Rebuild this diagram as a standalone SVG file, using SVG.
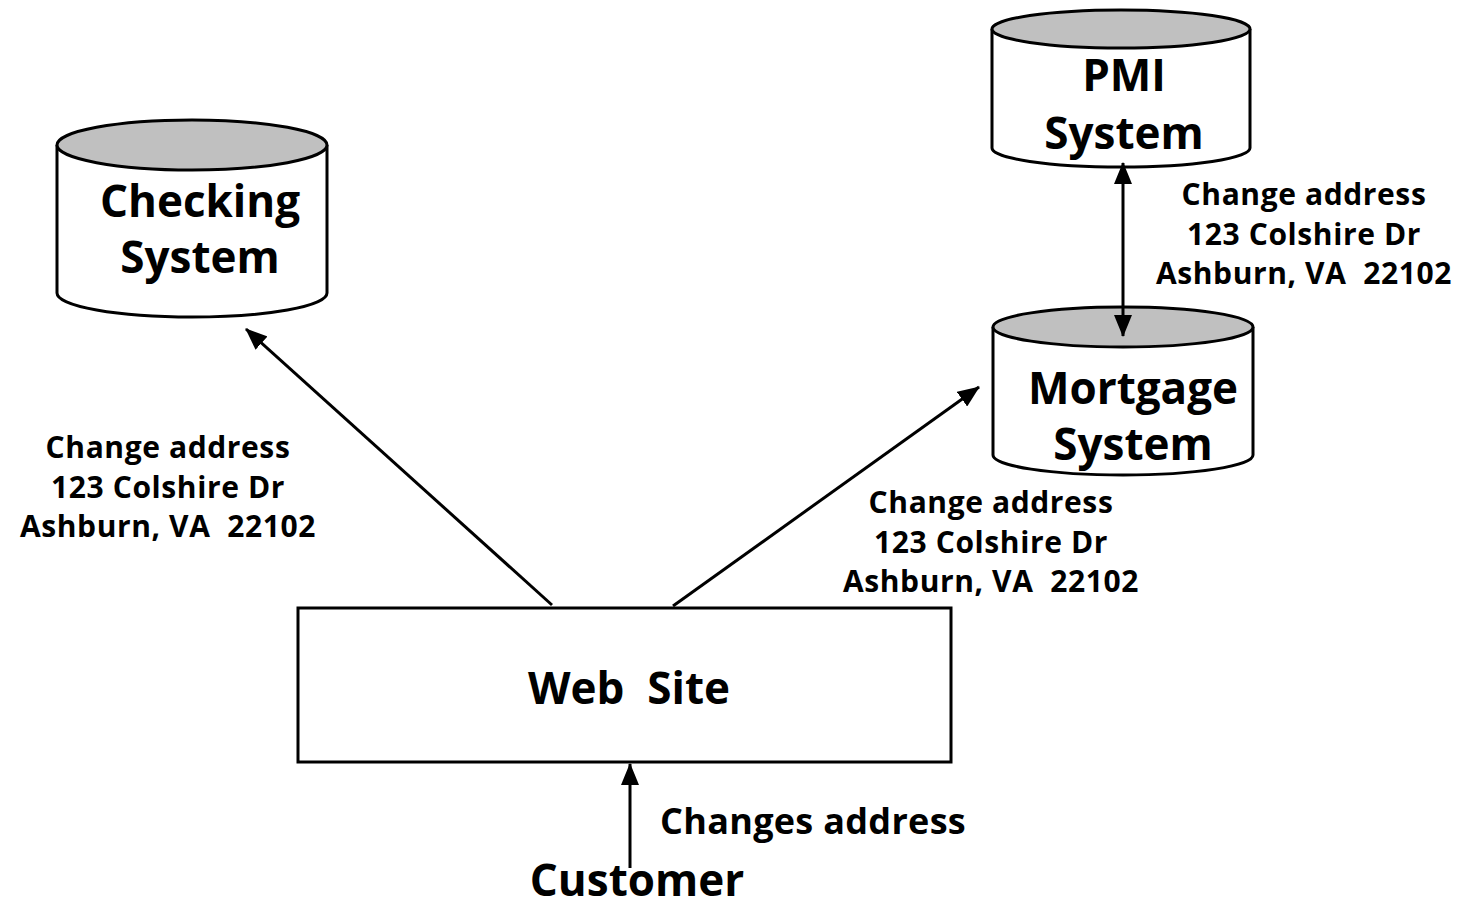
<svg xmlns="http://www.w3.org/2000/svg" width="1462" height="909" viewBox="0 0 1462 909">
  <style>
    text { font-family: "Open Sans", "Noto Sans", "Liberation Sans", sans-serif; font-weight: bold; fill: #000; text-anchor: middle; white-space: pre; }
    .big { font-size: 44px; }
    .lbl { font-size: 30px; letter-spacing: 0.6px; }
    .mid { font-size: 36px; letter-spacing: 0.3px; }
    .side { fill: #fff; stroke: #000; stroke-width: 3; }
    .lid { fill: #c0c0c0; stroke: #000; stroke-width: 3; }
    .edge { stroke: #000; stroke-width: 3; fill: none; }
  </style>
  <defs>
    <marker id="arr" viewBox="0 0 22 18" refX="21" refY="9" markerWidth="22" markerHeight="18" markerUnits="userSpaceOnUse" orient="auto-start-reverse">
      <path d="M0,0 L22,9 L0,18 Z" fill="#000"/>
    </marker>
  </defs>

  <rect width="1462" height="909" fill="#fff"/>

  <!-- Checking System cylinder -->
  <g id="checking">
    <path class="side" d="M57,145 L57,293 A135,24 0 0 0 327,293 L327,145"/>
    <ellipse class="lid" cx="192" cy="145" rx="135" ry="25"/>
    <text class="big" x="200" y="217">Checking</text>
    <text class="big" x="200" y="273">System</text>
  </g>

  <!-- PMI System cylinder -->
  <g id="pmi">
    <path class="side" d="M992,29 L992,148 A129,19 0 0 0 1250,148 L1250,29"/>
    <ellipse class="lid" cx="1121" cy="29" rx="129" ry="19"/>
    <text class="big" x="1124" y="91">PMI</text>
    <text class="big" x="1124" y="149">System</text>
  </g>

  <!-- Mortgage System cylinder -->
  <g id="mortgage">
    <path class="side" d="M993,327 L993,455 A130,20 0 0 0 1253,455 L1253,327"/>
    <ellipse class="lid" cx="1123" cy="327" rx="130" ry="20"/>
    <text class="big" x="1133" y="404">Mortgage</text>
    <text class="big" x="1133" y="460">System</text>
  </g>

  <!-- Web Site box -->
  <g id="website">
    <rect x="298" y="608" width="653" height="154" fill="#fff" stroke="#000" stroke-width="3"/>
    <text class="big" x="629" y="704">Web  Site</text>
  </g>

  <!-- Customer -->
  <g id="customer">
    <text class="big" x="637" y="896">Customer</text>
  </g>

  <!-- Connectors -->
  <g id="connectors">
    <line class="edge" x1="552" y1="605" x2="246" y2="329" marker-end="url(#arr)"/>
    <line class="edge" x1="673" y1="606" x2="979" y2="387" marker-end="url(#arr)"/>
    <line class="edge" x1="1123" y1="163" x2="1123" y2="336" marker-start="url(#arr)" marker-end="url(#arr)"/>
    <line class="edge" x1="630" y1="868" x2="630" y2="764" marker-end="url(#arr)"/>
  </g>

  <!-- Connector labels -->
  <g id="labels">
    <text class="lbl" x="168" y="458">Change address</text>
    <text class="lbl" x="168" y="498">123 Colshire Dr</text>
    <text class="lbl" x="168" y="537">Ashburn, VA  22102</text>

    <text class="lbl" x="991" y="513">Change address</text>
    <text class="lbl" x="991" y="553">123 Colshire Dr</text>
    <text class="lbl" x="991" y="592">Ashburn, VA  22102</text>

    <text class="lbl" x="1304" y="205">Change address</text>
    <text class="lbl" x="1304" y="245">123 Colshire Dr</text>
    <text class="lbl" x="1304" y="284">Ashburn, VA  22102</text>

    <text class="mid" x="813" y="834">Changes address</text>
  </g>
</svg>
